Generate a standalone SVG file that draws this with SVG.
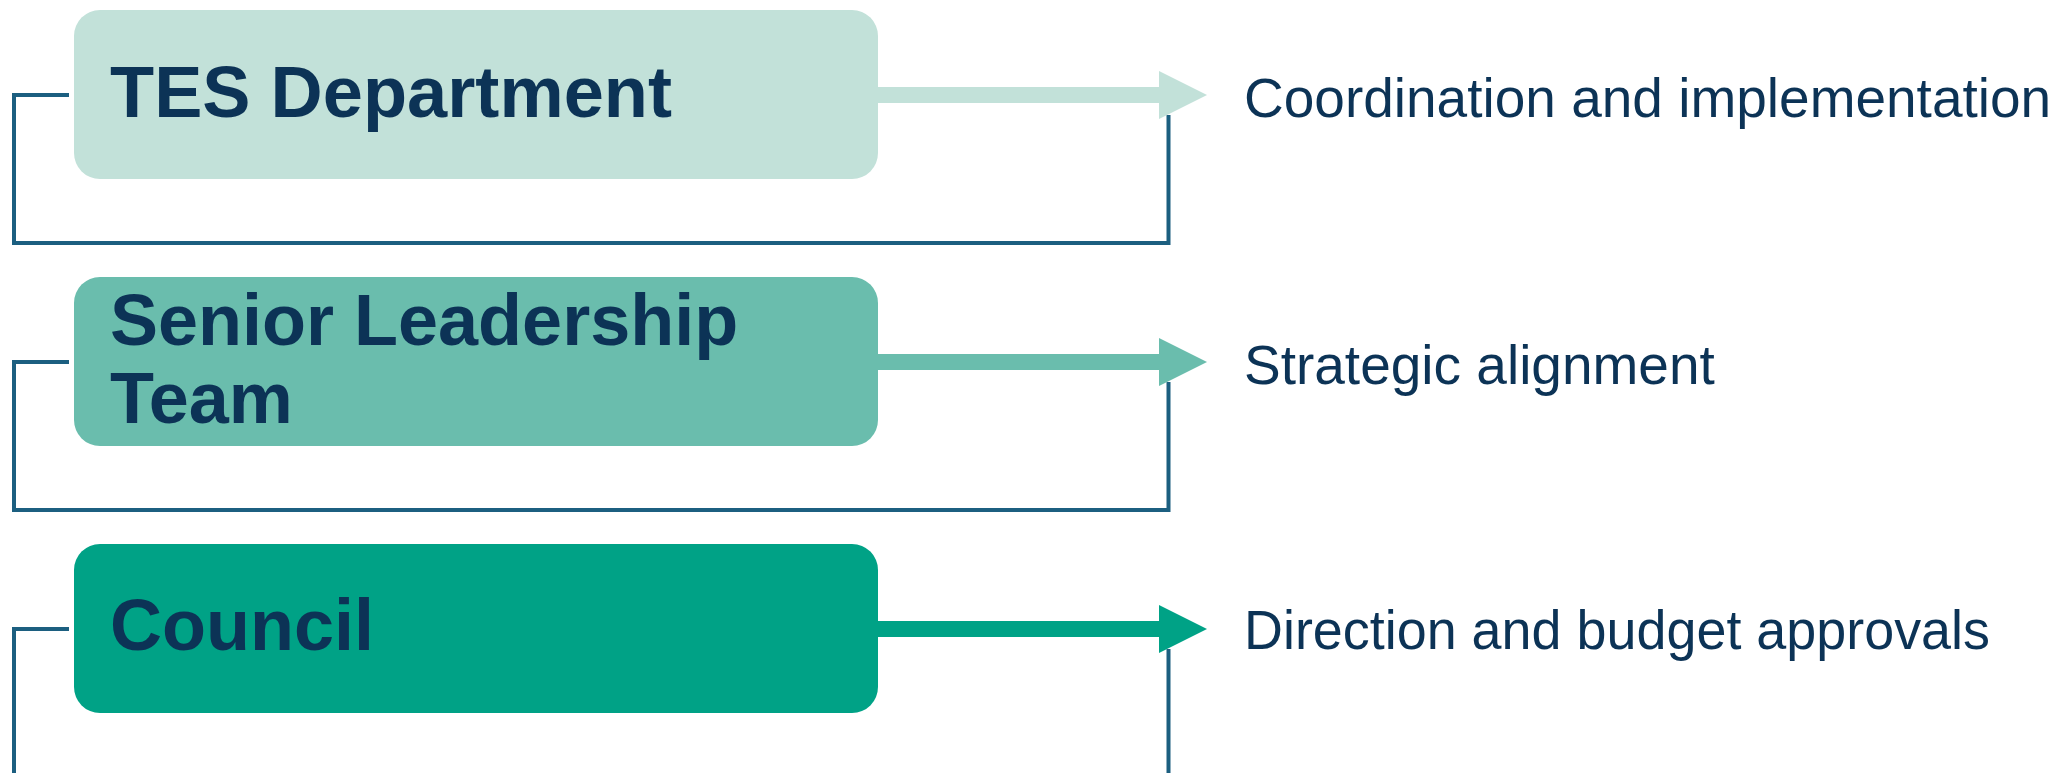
<svg xmlns="http://www.w3.org/2000/svg" width="2056" height="773" viewBox="0 0 2056 773">
  <style>
    .title { font-family: "Liberation Sans", Arial, sans-serif; font-weight: bold; font-size: 72px; fill: #0C3356; }
    .label { font-family: "Liberation Sans", Arial, sans-serif; font-size: 55px; fill: #0C3356; }
    .bracket { fill: none; stroke: #1C5F80; stroke-width: 4; }
  </style>
  <rect width="2056" height="773" fill="#FFFFFF"/>
  <g id="connectors">
    <path class="bracket" d="M69 95 H14 V243 H1168.5 V115"/>
    <path class="bracket" d="M69 362 H14 V510 H1168.5 V382"/>
    <path class="bracket" d="M69 629 H14 V780 M1168.5 780 V649"/>
    <g id="arrow1" fill="#C2E1D9">
      <rect x="870" y="87" width="292" height="16"/>
      <polygon points="1159,71 1207,95 1159,119"/>
    </g>
    <g id="arrow2" fill="#6ABDAD">
      <rect x="870" y="354" width="292" height="16"/>
      <polygon points="1159,338 1207,362 1159,386"/>
    </g>
    <g id="arrow3" fill="#00A286">
      <rect x="870" y="621" width="292" height="16"/>
      <polygon points="1159,605 1207,629 1159,653"/>
    </g>
  </g>
  <g id="node-tes">
    <rect x="74" y="10" width="804" height="169" rx="26" fill="#C2E1D9"/>
    <text class="title" x="110" y="117" textLength="562" lengthAdjust="spacingAndGlyphs">TES Department</text>
  </g>
  <g id="node-slt">
    <rect x="74" y="277" width="804" height="169" rx="26" fill="#6ABDAD"/>
    <text class="title" x="110" y="345">Senior Leadership</text>
    <text class="title" x="110" y="423">Team</text>
  </g>
  <g id="node-council">
    <rect x="74" y="544" width="804" height="169" rx="26" fill="#00A286"/>
    <text class="title" x="110" y="650">Council</text>
  </g>
  <g id="label-tes">
    <text class="label" x="1244" y="117">Coordination and implementation</text>
  </g>
  <g id="label-slt">
    <text class="label" x="1244" y="384">Strategic alignment</text>
  </g>
  <g id="label-council">
    <text class="label" x="1244" y="649" textLength="746" lengthAdjust="spacingAndGlyphs">Direction and budget approvals</text>
  </g>
</svg>
